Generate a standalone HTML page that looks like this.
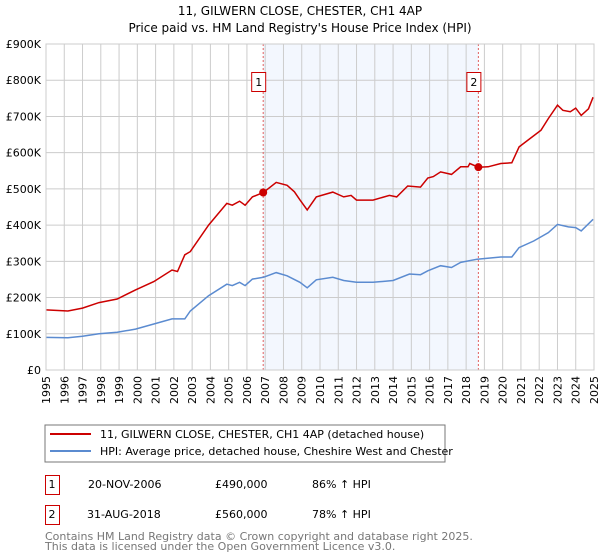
<!DOCTYPE html>
<html><head><meta charset="utf-8"><style>
body{margin:0;background:#fff;font-family:"DejaVu Sans","Liberation Sans",sans-serif;}
#wrap{position:relative;width:600px;height:560px;overflow:hidden}
</style></head><body>
<div id="wrap">
<svg id="chart" width="600" height="560" xmlns="http://www.w3.org/2000/svg" font-family="DejaVu Sans, Liberation Sans, sans-serif">
<text x="300" y="15" text-anchor="middle" font-size="12" fill="#000">11, GILWERN CLOSE, CHESTER, CH1 4AP</text>
<text x="300" y="32" text-anchor="middle" font-size="12" fill="#000">Price paid vs. HM Land Registry's House Price Index (HPI)</text>
<g id="grid"></g><g id="series"></g><g id="axes"></g>
<rect x="45" y="425" width="400" height="37" fill="#fff" stroke="#777"/>
<line x1="50" y1="434" x2="91" y2="434" stroke="#cc0000" stroke-width="2"/>
<text x="100" y="438" font-size="11">11, GILWERN CLOSE, CHESTER, CH1 4AP (detached house)</text>
<line x1="50" y1="451" x2="91" y2="451" stroke="#5b8bd0" stroke-width="2"/>
<text x="100" y="455" font-size="11">HPI: Average price, detached house, Cheshire West and Chester</text>
<g>
<rect x="45.5" y="475.5" width="14" height="19" fill="none" stroke="#cc0000"/>
<text x="52" y="488" text-anchor="middle" font-size="11">1</text>
<text x="88" y="488" font-size="11">20-NOV-2006</text>
<text x="215" y="488" font-size="11">£490,000</text>
<text x="312" y="488" font-size="11">86% ↑ HPI</text></g>
<g>
<rect x="45.5" y="505.5" width="14" height="19" fill="none" stroke="#cc0000"/>
<text x="52" y="518" text-anchor="middle" font-size="11">2</text>
<text x="87" y="518" font-size="11">31-AUG-2018</text>
<text x="215" y="518" font-size="11">£560,000</text>
<text x="312" y="518" font-size="11">78% ↑ HPI</text></g>
<text x="45" y="540" font-size="11" fill="#777">Contains HM Land Registry data © Crown copyright and database right 2025.</text>
<text x="45" y="550" font-size="11" fill="#777">This data is licensed under the Open Government Licence v3.0.</text>
</svg></div>
<script>
const yearTicks=[1995,1996,1997,1998,1999,2000,2001,2002,2003,2004,2005,2006,2007,2008,2009,2010,2011,2012,2013,2014,2015,2016,2017,2018,2019,2020,2021,2022,2023,2024,2025];
const valueTicks=[0,100,200,300,400,500,600,700,800,900];
const valueTickLabels=["£0","£100K","£200K","£300K","£400K","£500K","£600K","£700K","£800K","£900K"];
const propYears=[1995.0,1996.2,1997.0,1997.9,1998.9,1999.9,2000.9,2001.9,2002.2,2002.6,2002.9,2003.9,2004.9,2005.2,2005.6,2005.9,2006.3,2006.9,2007.6,2008.2,2008.6,2008.9,2009.3,2009.8,2010.7,2011.3,2011.7,2012.0,2012.9,2013.8,2014.2,2014.8,2015.5,2015.9,2016.2,2016.6,2017.2,2017.7,2018.1,2018.2,2018.67,2019.2,2019.9,2020.5,2020.9,2021.5,2022.1,2022.5,2023.0,2023.3,2023.7,2024.0,2024.3,2024.7,2024.95];
const propValues=[166,163,171,186,196,221,244,276,272,318,327,400,460,455,466,455,478,490,518,510,492,470,442,478,491,478,482,469,469,482,478,508,505,530,534,547,540,561,561,570,560,561,570,572,616,639,662,694,731,717,713,723,703,721,753];
const hpiYears=[1995.0,1996.2,1997.0,1997.9,1998.9,1999.9,2000.9,2001.9,2002.6,2002.9,2003.9,2004.9,2005.2,2005.6,2005.9,2006.3,2006.9,2007.6,2008.2,2008.9,2009.3,2009.8,2010.7,2011.3,2012.0,2012.9,2014.0,2014.9,2015.5,2015.9,2016.6,2017.2,2017.7,2018.6,2019.9,2020.5,2020.9,2021.7,2022.5,2023.0,2023.6,2024.0,2024.3,2024.95];
const hpiValues=[90,89,93,100,104,113,127,141,141,163,205,237,233,242,233,251,256,269,260,242,227,249,256,247,242,242,247,265,263,274,288,283,297,306,312,312,338,356,379,402,395,393,384,416];
const sales=[{year:2006.89,value:490,label:"1"},{year:2018.67,value:560,label:"2"}];
const NS="http://www.w3.org/2000/svg";
const X0=46,X1=594,Y0=370,Y1=44;
const xs=y=>X0+(y-1995)/30*(X1-X0);
const ys=v=>Y0-v/900*(Y0-Y1);
function mk(tag,attrs,parent){const e=document.createElementNS(NS,tag);for(const k in attrs)e.setAttribute(k,attrs[k]);parent.appendChild(e);return e;}
const grid=document.getElementById('grid'),axes=document.getElementById('axes'),ser=document.getElementById('series');
const shade=mk('rect',{x:xs(sales[0].year),y:Y1,width:xs(sales[1].year)-xs(sales[0].year),height:Y0-Y1,fill:'#eef3fd',opacity:0.7},grid);


yearTicks.forEach(t=>{
 const l=mk('line',{x1:xs(t),x2:xs(t),y1:Y1,y2:Y0,stroke:'#cccccc'},grid);
 
 
 const tx=mk('text',{x:0,y:0,'font-size':11,'text-anchor':'end',transform:`translate(${xs(t)+4},${Y0+6}) rotate(-90)`},axes);
 tx.textContent=t;
 
 
});
valueTicks.forEach((v,i)=>{
 const l=mk('line',{x1:X0,x2:X1,y1:ys(v),y2:ys(v),stroke:'#cccccc'},grid);
 
 
 const tx=mk('text',{x:X0-5,y:ys(v)+4,'font-size':11,'text-anchor':'end'},axes);
 tx.textContent=valueTickLabels[i];
 
 
});
sales.forEach(s=>{
 const l=mk('line',{x1:xs(s.year),x2:xs(s.year),y1:Y1,y2:Y0,stroke:'#e06060','stroke-dasharray':'2,2'},grid);
 
 
});
function path(xa,va,color,name){
 const d=xa.map((y,i)=>(i?'L':'M')+xs(y).toFixed(1)+','+ys(va[i]).toFixed(1)).join('');
 const p=mk('path',{d:d,fill:'none',stroke:color,'stroke-width':1.5},ser);
 
 
}
path(hpiYears,hpiValues,'#5b8bd0','hpi-line');
path(propYears,propValues,'#cc0000','property-price-line');
sales.forEach(s=>{
 const c=mk('circle',{cx:xs(s.year),cy:ys(s.value),r:4,fill:'#cc0000'},ser);
 
 
 const b=mk('rect',{x:xs(s.year)-11.5,y:72.5,width:14,height:19,fill:'#fff',stroke:'#cc0000'},ser);
 
 
 const t=mk('text',{x:xs(s.year)-4.5,y:86,'font-size':11,'text-anchor':'middle'},ser);
 t.textContent=s.label;
 
 
});
const frame=mk('rect',{x:X0,y:Y1,width:X1-X0,height:Y0-Y1,fill:'none',stroke:'#cccccc'},axes);


</script>
</body></html>
